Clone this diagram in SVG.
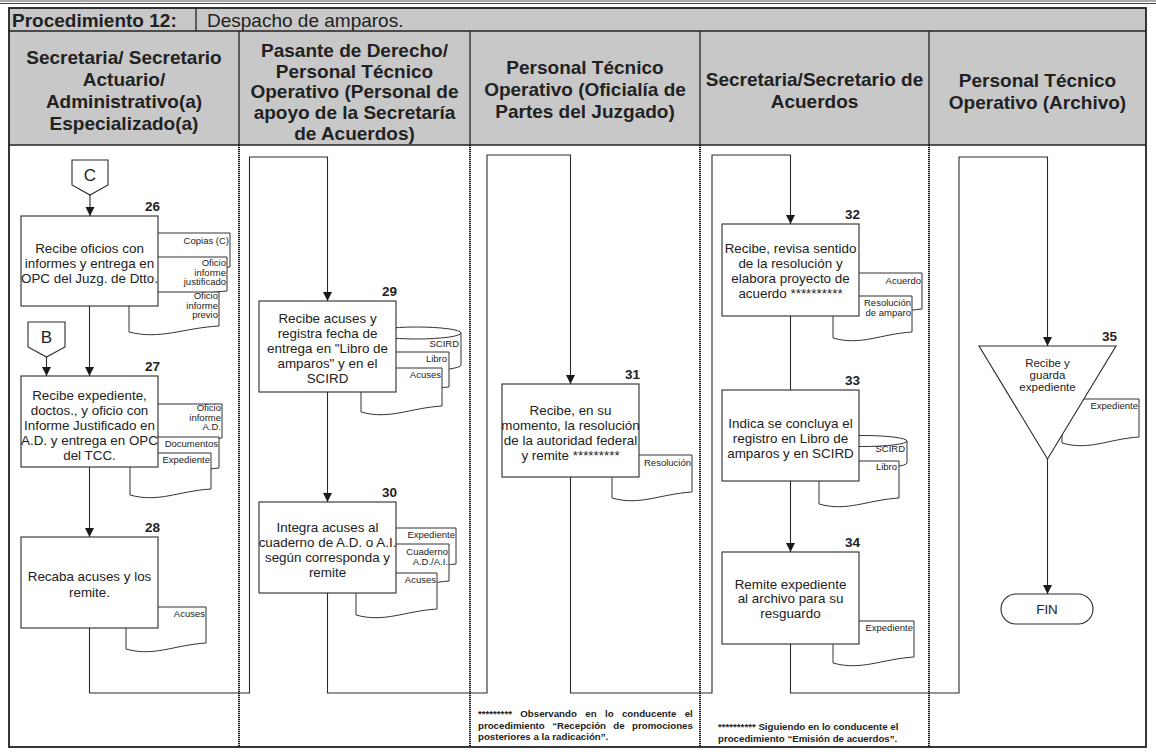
<svg xmlns="http://www.w3.org/2000/svg" width="1156" height="752" viewBox="0 0 1156 752">
  <defs>
    <style>
      .hdrfill { fill: #c8c8c8; }
      .frame { fill: none; stroke: #222; stroke-width: 1.8; }
      .rule { stroke: #222; stroke-width: 1.3; fill: none; }
      .lane { stroke: #111; stroke-width: 1.9; stroke-dasharray: 1.2 0.8; fill: none; }
      .box { fill: #fff; stroke: #2b2b2b; stroke-width: 1.1; }
      .doc { fill: #fff; stroke: #333; stroke-width: 1; }
      .conn { fill: none; stroke: #2b2b2b; stroke-width: 1.1; }
      .arr { marker-end: url(#ah); }
      text { font-family: "Liberation Sans", Arial, sans-serif; fill: #222; }
      .h { font-size: 19px; font-weight: bold; text-anchor: middle; }
      .t { font-size: 13.4px; text-anchor: middle; }
      .tri { font-size: 11.5px; text-anchor: middle; }
      .num { font-size: 13.5px; font-weight: bold; text-anchor: end; }
      .d { font-size: 9.5px; text-anchor: end; }
      .fn { font-size: 9.7px; font-weight: bold; }
      .off { font-size: 17px; text-anchor: middle; }
    </style>
    <marker id="ah" markerUnits="userSpaceOnUse" markerWidth="10" markerHeight="10" refX="9" refY="5" orient="auto">
      <path d="M0,0.5 L9,5 L0,9.5 Z" fill="#1a1a1a"/>
    </marker>
  </defs>

  <rect width="1156" height="752" fill="#fff"/>

  <!-- page rule at the top -->
  <line x1="0" y1="1" x2="1156" y2="1" stroke="#555" stroke-width="1"/>
  <line x1="0" y1="3.5" x2="1156" y2="3.5" stroke="#444" stroke-width="1"/>

  <!-- table header -->
  <g id="header">
    <rect class="hdrfill" x="9" y="8" width="1137" height="137"/>
    <line class="rule" x1="9" y1="31" x2="1146" y2="31"/>
    <line class="rule" x1="9" y1="145" x2="1146" y2="145"/>
    <line class="rule" x1="196" y1="8" x2="196" y2="31"/>
    <line class="rule" x1="239" y1="31" x2="239" y2="145"/>
    <line class="rule" x1="470" y1="31" x2="470" y2="145"/>
    <line class="rule" x1="700" y1="31" x2="700" y2="145"/>
    <line class="rule" x1="929" y1="31" x2="929" y2="145"/>
    <text x="12" y="27" style="font-size:19px;font-weight:bold">Procedimiento 12:</text>
    <text x="207" y="27" style="font-size:19px">Despacho de amparos.</text>

    <text class="h" x="124" y="64.3">Secretaria/ Secretario</text>
    <text class="h" x="124" y="86">Actuario/</text>
    <text class="h" x="124" y="107.8">Administrativo(a)</text>
    <text class="h" x="124" y="129.5">Especializado(a)</text>

    <text class="h" x="354.5" y="56.8">Pasante de Derecho/</text>
    <text class="h" x="354.5" y="77.5">Personal Técnico</text>
    <text class="h" x="354.5" y="98.3">Operativo (Personal de</text>
    <text class="h" x="354.5" y="119">apoyo de la Secretaría</text>
    <text class="h" x="354.5" y="139.8">de Acuerdos)</text>

    <text class="h" x="585" y="74.3">Personal Técnico</text>
    <text class="h" x="585" y="96.3">Operativo (Oficialía de</text>
    <text class="h" x="585" y="118.3">Partes del Juzgado)</text>

    <text class="h" x="814.5" y="86">Secretaria/Secretario de</text>
    <text class="h" x="814.5" y="107.5">Acuerdos</text>

    <text class="h" x="1037.5" y="87">Personal Técnico</text>
    <text class="h" x="1037.5" y="108.5">Operativo (Archivo)</text>
  </g>

  <!-- swimlane separators and outer frame -->
  <g id="lanes">
    <line class="lane" x1="239" y1="145" x2="239" y2="747"/>
    <line class="lane" x1="470" y1="145" x2="470" y2="747"/>
    <line class="lane" x1="700" y1="145" x2="700" y2="747"/>
    <line class="lane" x1="929" y1="145" x2="929" y2="747"/>
    <rect class="frame" x="9" y="8" width="1137" height="739"/>
  </g>

  <!-- connectors -->
  <g id="connectors">
    <line class="conn arr" x1="90" y1="195" x2="90" y2="216"/>
    <line class="conn arr" x1="89.5" y1="306" x2="89.5" y2="376"/>
    <line class="conn arr" x1="46.5" y1="357" x2="46.5" y2="376"/>
    <line class="conn arr" x1="89.5" y1="467" x2="89.5" y2="537"/>
    <polyline class="conn arr" points="89.5,628 89.5,693 249.5,693 249.5,157 327.5,157 327.5,301"/>
    <line class="conn arr" x1="327.5" y1="392" x2="327.5" y2="502"/>
    <polyline class="conn arr" points="327.5,593 327.5,693 487,693 487,155 570.5,155 570.5,384"/>
    <polyline class="conn arr" points="570.5,477 570.5,693 712,693 712,155 790.5,155 790.5,224"/>
    <line class="conn" x1="790.5" y1="316" x2="790.5" y2="390"/>
    <line class="conn arr" x1="790.5" y1="481" x2="790.5" y2="552"/>
    <polyline class="conn arr" points="790.5,644 790.5,693 959,693 959,157 1047.5,157 1047.5,346"/>
    <line class="conn arr" x1="1047.5" y1="459" x2="1047.5" y2="594"/>
  </g>

  <!-- off-page connectors -->
  <g id="offpage-C">
    <path class="box" d="M72,160 H108 V185 L90,195 L72,185 Z"/>
    <text class="off" x="90" y="181">C</text>
  </g>
  <g id="offpage-B">
    <path class="box" d="M28,322 H65 V347 L46.5,357 L28,347 Z"/>
    <text class="off" x="46.5" y="343">B</text>
  </g>

  <g id="step-26">
    <path class="doc" d="M150,233 H230 V267 C198,269 178,281 150,273 Z"/>
    <text class="d" x="229" y="244">Copias (C)</text>
    <path class="doc" d="M145,257 H227 V291 C194.2,293 173.7,305 145,297 Z"/>
    <text class="d" x="226" y="266">Oficio</text>
    <text class="d" x="226" y="275.5">informe</text>
    <text class="d" x="226" y="285">justificado</text>
    <path class="doc" d="M129,292 H219 V326 C183,328 160.5,340 129,332 Z"/>
    <text class="d" x="218" y="299">Oficio</text>
    <text class="d" x="218" y="308.5">informe</text>
    <text class="d" x="218" y="318">previo</text>
    <rect class="box" x="21" y="216" width="137" height="90"/>
    <text class="num" x="160" y="211">26</text>
    <text class="t" x="89.5" y="253">Recibe oficios con</text>
    <text class="t" x="89.5" y="268">informes y entrega en</text>
    <text class="t" x="89.5" y="283">OPC del Juzg. de Dtto.</text>
  </g>

  <g id="step-27">
    <path class="doc" d="M150,404 H222 V438 C193.2,440 175.2,452 150,444 Z"/>
    <text class="d" x="221" y="411">Oficio</text>
    <text class="d" x="221" y="420.5">informe</text>
    <text class="d" x="221" y="430">A.D.</text>
    <path class="doc" d="M150,437 H219 V468 C191.4,470 174.2,482 150,474 Z"/>
    <text class="d" x="218" y="446.5">Documentos</text>
    <path class="doc" d="M130,453 H211 V489 C178.6,491 158.4,503 130,495 Z"/>
    <text class="d" x="210" y="462.5">Expediente</text>
    <rect class="box" x="21" y="376" width="137" height="91"/>
    <text class="num" x="160" y="371">27</text>
    <text class="t" x="89.5" y="400">Recibe expediente,</text>
    <text class="t" x="89.5" y="415">doctos., y oficio con</text>
    <text class="t" x="89.5" y="430">Informe Justificado en</text>
    <text class="t" x="89.5" y="445">A.D. y entrega en OPC</text>
    <text class="t" x="89.5" y="460">del TCC.</text>
  </g>

  <g id="step-28">
    <path class="doc" d="M126,607 H206 V643 C174,645 154,657 126,649 Z"/>
    <text class="d" x="205" y="616.5">Acuses</text>
    <rect class="box" x="21" y="537" width="137" height="91"/>
    <text class="num" x="160" y="532">28</text>
    <text class="t" x="89.5" y="581">Recaba acuses y los</text>
    <text class="t" x="89.5" y="597">remite.</text>
  </g>

  <g id="step-29">
    <path class="doc" d="M372,333 A44.5,6 0 0 1 461,333 V365 A44.5,6 0 0 1 372,365 Z"/>
    <path class="doc" fill="none" d="M372,333 A44.5,6 0 0 0 461,333"/>
    <text class="d" x="459" y="346.5">SCIRD</text>
    <path class="doc" d="M366,352 H449 V387 C415.8,389 395.1,401 366,393 Z"/>
    <text class="d" x="447" y="361.5">Libro</text>
    <path class="doc" d="M361,368 H442 V406 C409.6,408 389.4,420 361,412 Z"/>
    <text class="d" x="441" y="378">Acuses</text>
    <rect class="box" x="259" y="301" width="137" height="91"/>
    <text class="num" x="397" y="296">29</text>
    <text class="t" x="327.5" y="323">Recibe acuses y</text>
    <text class="t" x="327.5" y="338">registra fecha de</text>
    <text class="t" x="327.5" y="353">entrega en "Libro de</text>
    <text class="t" x="327.5" y="368">amparos" y en el</text>
    <text class="t" x="327.5" y="383">SCIRD</text>
  </g>

  <g id="step-30">
    <path class="doc" d="M380,528 H456 V564 C425.6,566 406.6,578 380,570 Z"/>
    <text class="d" x="455" y="537.5">Expediente</text>
    <path class="doc" d="M375,544 H449 V581 C419.4,583 400.9,595 375,587 Z"/>
    <text class="d" x="448" y="554.5">Cuaderno</text>
    <text class="d" x="448" y="564.5">A.D./A.I.</text>
    <path class="doc" d="M356,573 H437 V609 C404.6,611 384.4,623 356,615 Z"/>
    <text class="d" x="436" y="582.5">Acuses</text>
    <rect class="box" x="259" y="502" width="137" height="91"/>
    <text class="num" x="397" y="497">30</text>
    <text class="t" x="327.5" y="532">Integra acuses al</text>
    <text class="t" x="327.5" y="547">cuaderno de A.D. o A.I.</text>
    <text class="t" x="327.5" y="562">según corresponda y</text>
    <text class="t" x="327.5" y="577">remite</text>
  </g>

  <g id="step-31">
    <path class="doc" d="M612,455 H692 V492 C660,494 640,506 612,498 Z"/>
    <text class="d" x="691" y="466">Resolución</text>
    <rect class="box" x="502" y="384" width="137" height="93"/>
    <text class="num" x="640" y="379">31</text>
    <text class="t" x="570.5" y="415">Recibe, en su</text>
    <text class="t" x="570.5" y="430">momento, la resolución</text>
    <text class="t" x="570.5" y="445">de la autoridad federal</text>
    <text class="t" x="570.5" y="460">y remite *********</text>
  </g>

  <g id="step-32">
    <path class="doc" d="M850,273 H922 V309 C893.2,311 875.2,323 850,315 Z"/>
    <text class="d" x="921" y="283.5">Acuerdo</text>
    <path class="doc" d="M833,296 H912 V332 C880.4,334 860.7,346 833,338 Z"/>
    <text class="d" x="911" y="305.5">Resolución</text>
    <text class="d" x="911" y="315.5">de amparo</text>
    <rect class="box" x="722" y="224" width="137" height="92"/>
    <text class="num" x="860" y="219">32</text>
    <text class="t" x="790.5" y="253">Recibe, revisa sentido</text>
    <text class="t" x="790.5" y="268">de la resolución y</text>
    <text class="t" x="790.5" y="283">elabora proyecto de</text>
    <text class="t" x="790.5" y="298">acuerdo **********</text>
  </g>

  <g id="step-33">
    <path class="doc" d="M818,441 A44.5,5.5 0 0 1 907,441 V463 A44.5,5.5 0 0 1 818,463 Z"/>
    <path class="doc" fill="none" d="M818,441 A44.5,5.5 0 0 0 907,441"/>
    <text class="d" x="905" y="451.5">SCIRD</text>
    <path class="doc" d="M819,461 H899 V498 C867,500 847,512 819,504 Z"/>
    <text class="d" x="897" y="470">Libro</text>
    <rect class="box" x="722" y="390" width="137" height="91"/>
    <text class="num" x="860" y="385">33</text>
    <text class="t" x="790.5" y="428">Indica se concluya el</text>
    <text class="t" x="790.5" y="443">registro en Libro de</text>
    <text class="t" x="790.5" y="458">amparos y en SCIRD</text>
  </g>

  <g id="step-34">
    <path class="doc" d="M833,621 H914 V657 C881.6,659 861.4,671 833,663 Z"/>
    <text class="d" x="913" y="630.5">Expediente</text>
    <rect class="box" x="722" y="552" width="137" height="92"/>
    <text class="num" x="860" y="547">34</text>
    <text class="t" x="790.5" y="589">Remite expediente</text>
    <text class="t" x="790.5" y="603">al archivo para su</text>
    <text class="t" x="790.5" y="618">resguardo</text>
  </g>

  <g id="step-35">
    <path class="doc" d="M1062,399 H1139 V437 C1108.2,439 1089,451 1062,443 Z"/>
    <text class="d" x="1138" y="408.5">Expediente</text>
    <path class="box" d="M979,346 H1116 L1047.5,459 Z"/>
    <text class="num" x="1117" y="341">35</text>
    <text class="tri" x="1047.5" y="367">Recibe y</text>
    <text class="tri" x="1047.5" y="379">guarda</text>
    <text class="tri" x="1047.5" y="391">expediente</text>
  </g>

  <g id="end">
    <rect class="box" x="1001" y="594" width="92" height="30" rx="15" ry="15"/>
    <text class="t" x="1047" y="614">FIN</text>
  </g>

  <!-- lane notes -->
  <g id="notes">
    <text class="fn" x="478" y="717" style="word-spacing:5.7px">********* Observando en lo conducente el</text>
    <text class="fn" x="478" y="728.5" style="word-spacing:4.7px">procedimiento “Recepción de promociones</text>
    <text class="fn" x="478" y="740">posteriores a la radicación”.</text>
    <text class="fn" x="718" y="730">********** Siguiendo en lo conducente el</text>
    <text class="fn" x="718" y="741.5">procedimiento “Emisión de acuerdos”.</text>
  </g>
</svg>
